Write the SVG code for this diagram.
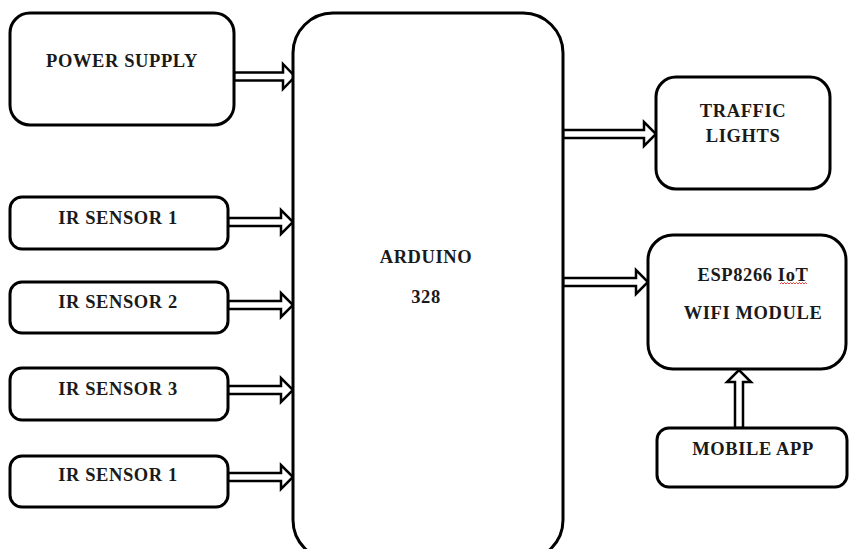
<svg xmlns="http://www.w3.org/2000/svg" width="849" height="549" viewBox="0 0 849 549">
<style>
.box{fill:#fff;stroke:#000;stroke-width:3}
.arr{fill:#fff;stroke:#000;stroke-width:2.5;stroke-linejoin:miter}
.t{font-family:"Liberation Serif","Times New Roman",serif;font-weight:bold;font-size:18.5px;letter-spacing:0.6px;fill:#1a1a1a;text-anchor:middle}
</style>
<rect width="849" height="549" fill="#fff"/>
<g id="connectors">
<path class="arr" d="M234,72.5 H283 V64 L295,76.5 L283,89 V80.5 H234 Z"/>
<path class="arr" d="M228,218 H281 V210 L293,222 L281,234 V226 H228 Z"/>
<path class="arr" d="M228,301 H281 V293 L293,305 L281,317 V309 H228 Z"/>
<path class="arr" d="M228,386 H281 V378 L293,390 L281,402 V394 H228 Z"/>
<path class="arr" d="M228,473 H281 V465 L293,477 L281,489 V481 H228 Z"/>
<path class="arr" d="M563,130 H644 V122 L656,134 L644,146 V138 H563 Z"/>
<path class="arr" d="M563,278 H636 V270 L648,282 L636,294 V286 H563 Z"/>
<path class="arr" d="M735,428 V382 H727 L739,370 L751,382 H743 V428 Z"/>
</g>
<g id="power"><rect class="box" x="10" y="13" width="224" height="112" rx="20"/><text class="t" x="122" y="67">POWER SUPPLY</text></g>
<g id="arduino"><rect class="box" x="293" y="13" width="270" height="547" rx="40"/><text class="t" x="426" y="263">ARDUINO</text><text class="t" x="426" y="303">328</text></g>
<g id="ir1"><rect class="box" x="10" y="197" width="218" height="52" rx="12"/><text class="t" x="118" y="224">IR SENSOR 1</text></g>
<g id="ir2"><rect class="box" x="10" y="282" width="218" height="51" rx="12"/><text class="t" x="118" y="308">IR SENSOR 2</text></g>
<g id="ir3"><rect class="box" x="10" y="368" width="218" height="52" rx="12"/><text class="t" x="118" y="395">IR SENSOR 3</text></g>
<g id="ir4"><rect class="box" x="10" y="456" width="218" height="51" rx="12"/><text class="t" x="118" y="481">IR SENSOR 1</text></g>
<g id="traffic"><rect class="box" x="656" y="77" width="174" height="112" rx="20"/><text class="t" x="743" y="117">TRAFFIC</text><text class="t" x="743" y="142">LIGHTS</text></g>
<g id="esp"><rect class="box" x="648" y="235" width="198" height="134" rx="25"/><text class="t" x="753" y="281">ESP8266 IoT</text><path d="M780,284 l1.5,-1.5 l1.5,1.5 l1.5,-1.5 l1.5,1.5 l1.5,-1.5 l1.5,1.5 l1.5,-1.5 l1.5,1.5 l1.5,-1.5 l1.5,1.5 l1.5,-1.5 l1.5,1.5 l1.5,-1.5 l1.5,1.5 l1.5,-1.5 l1.5,1.5 l1.5,-1.5 l1.5,1.5" fill="none" stroke="#e03030" stroke-width="0.9"/><text class="t" x="753" y="319">WIFI MODULE</text></g>
<g id="mobile"><rect class="box" x="657" y="428" width="190" height="59" rx="12"/><text class="t" x="753" y="455">MOBILE APP</text></g>
</svg>
